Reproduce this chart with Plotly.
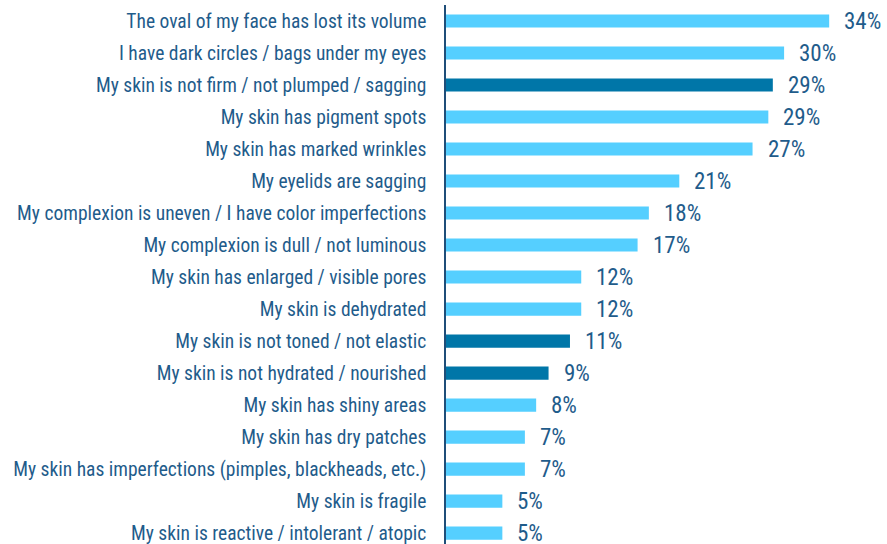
import plotly.graph_objects as go

categories = [
    "The oval of my face has lost its volume",
    "I have dark circles / bags under my eyes",
    "My skin is not firm / not plumped / sagging",
    "My skin has pigment spots",
    "My skin has marked wrinkles",
    "My eyelids are sagging",
    "My complexion is uneven / I have color imperfections",
    "My complexion is dull / not luminous",
    "My skin has enlarged / visible pores",
    "My skin is dehydrated",
    "My skin is not toned / not elastic",
    "My skin is not hydrated / nourished",
    "My skin has shiny areas",
    "My skin has dry patches",
    "My skin has imperfections (pimples, blackheads, etc.)",
    "My skin is fragile",
    "My skin is reactive / intolerant / atopic",
]
values = [34, 30, 29, 28.6, 27.2, 20.7, 18, 17, 12, 12, 11, 9.1, 8, 7, 7, 5, 5]
value_labels = ["34%", "30%", "29%", "29%", "27%", "21%", "18%", "17%", "12%", "12%",
                "11%", "9%", "8%", "7%", "7%", "5%", "5%"]
highlighted = [False, False, True, False, False, False, False, False, False, False,
               True, True, False, False, False, False, False]

LIGHT = "#55CFFF"
DARK = "#0076A8"
TEXT = "#1F5C8B"
FONT = "Liberation Sans Narrow, Arial Narrow, Roboto Condensed, DejaVu Sans Condensed, sans-serif"

colors = [DARK if h else LIGHT for h in highlighted]

fig = go.Figure(go.Bar(
    x=values, y=categories, orientation="h",
    marker=dict(color=colors, line=dict(width=0)),
    hoverinfo="skip",
))

for c, v, t in zip(categories, values, value_labels):
    fig.add_annotation(x=v, y=c, text=t, showarrow=False, xanchor="left",
                       xshift=13, font=dict(family=FONT, size=23, color=TEXT))

fig.update_layout(
    width=887, height=544,
    margin=dict(l=446, r=0, t=5, b=0, autoexpand=False),
    paper_bgcolor="white", plot_bgcolor="white",
    bargap=0.59,
    showlegend=False,
    font=dict(family=FONT, color=TEXT),
    xaxis=dict(range=[0, 39.13], visible=False, fixedrange=True, automargin=False),
    yaxis=dict(categoryorder="array", categoryarray=categories, automargin=False,
               range=[16.34, -0.5], showline=True, linecolor="#1F4E79", linewidth=1.5,
               showgrid=False, zeroline=False, ticks="", ticklabelstandoff=14,
               tickfont=dict(family=FONT, size=19.5, color=TEXT), fixedrange=True),
)

fig.write_html("out.html", config={"displayModeBar": False},
               post_script="document.body.style.margin='0';document.body.style.overflow='hidden';")
